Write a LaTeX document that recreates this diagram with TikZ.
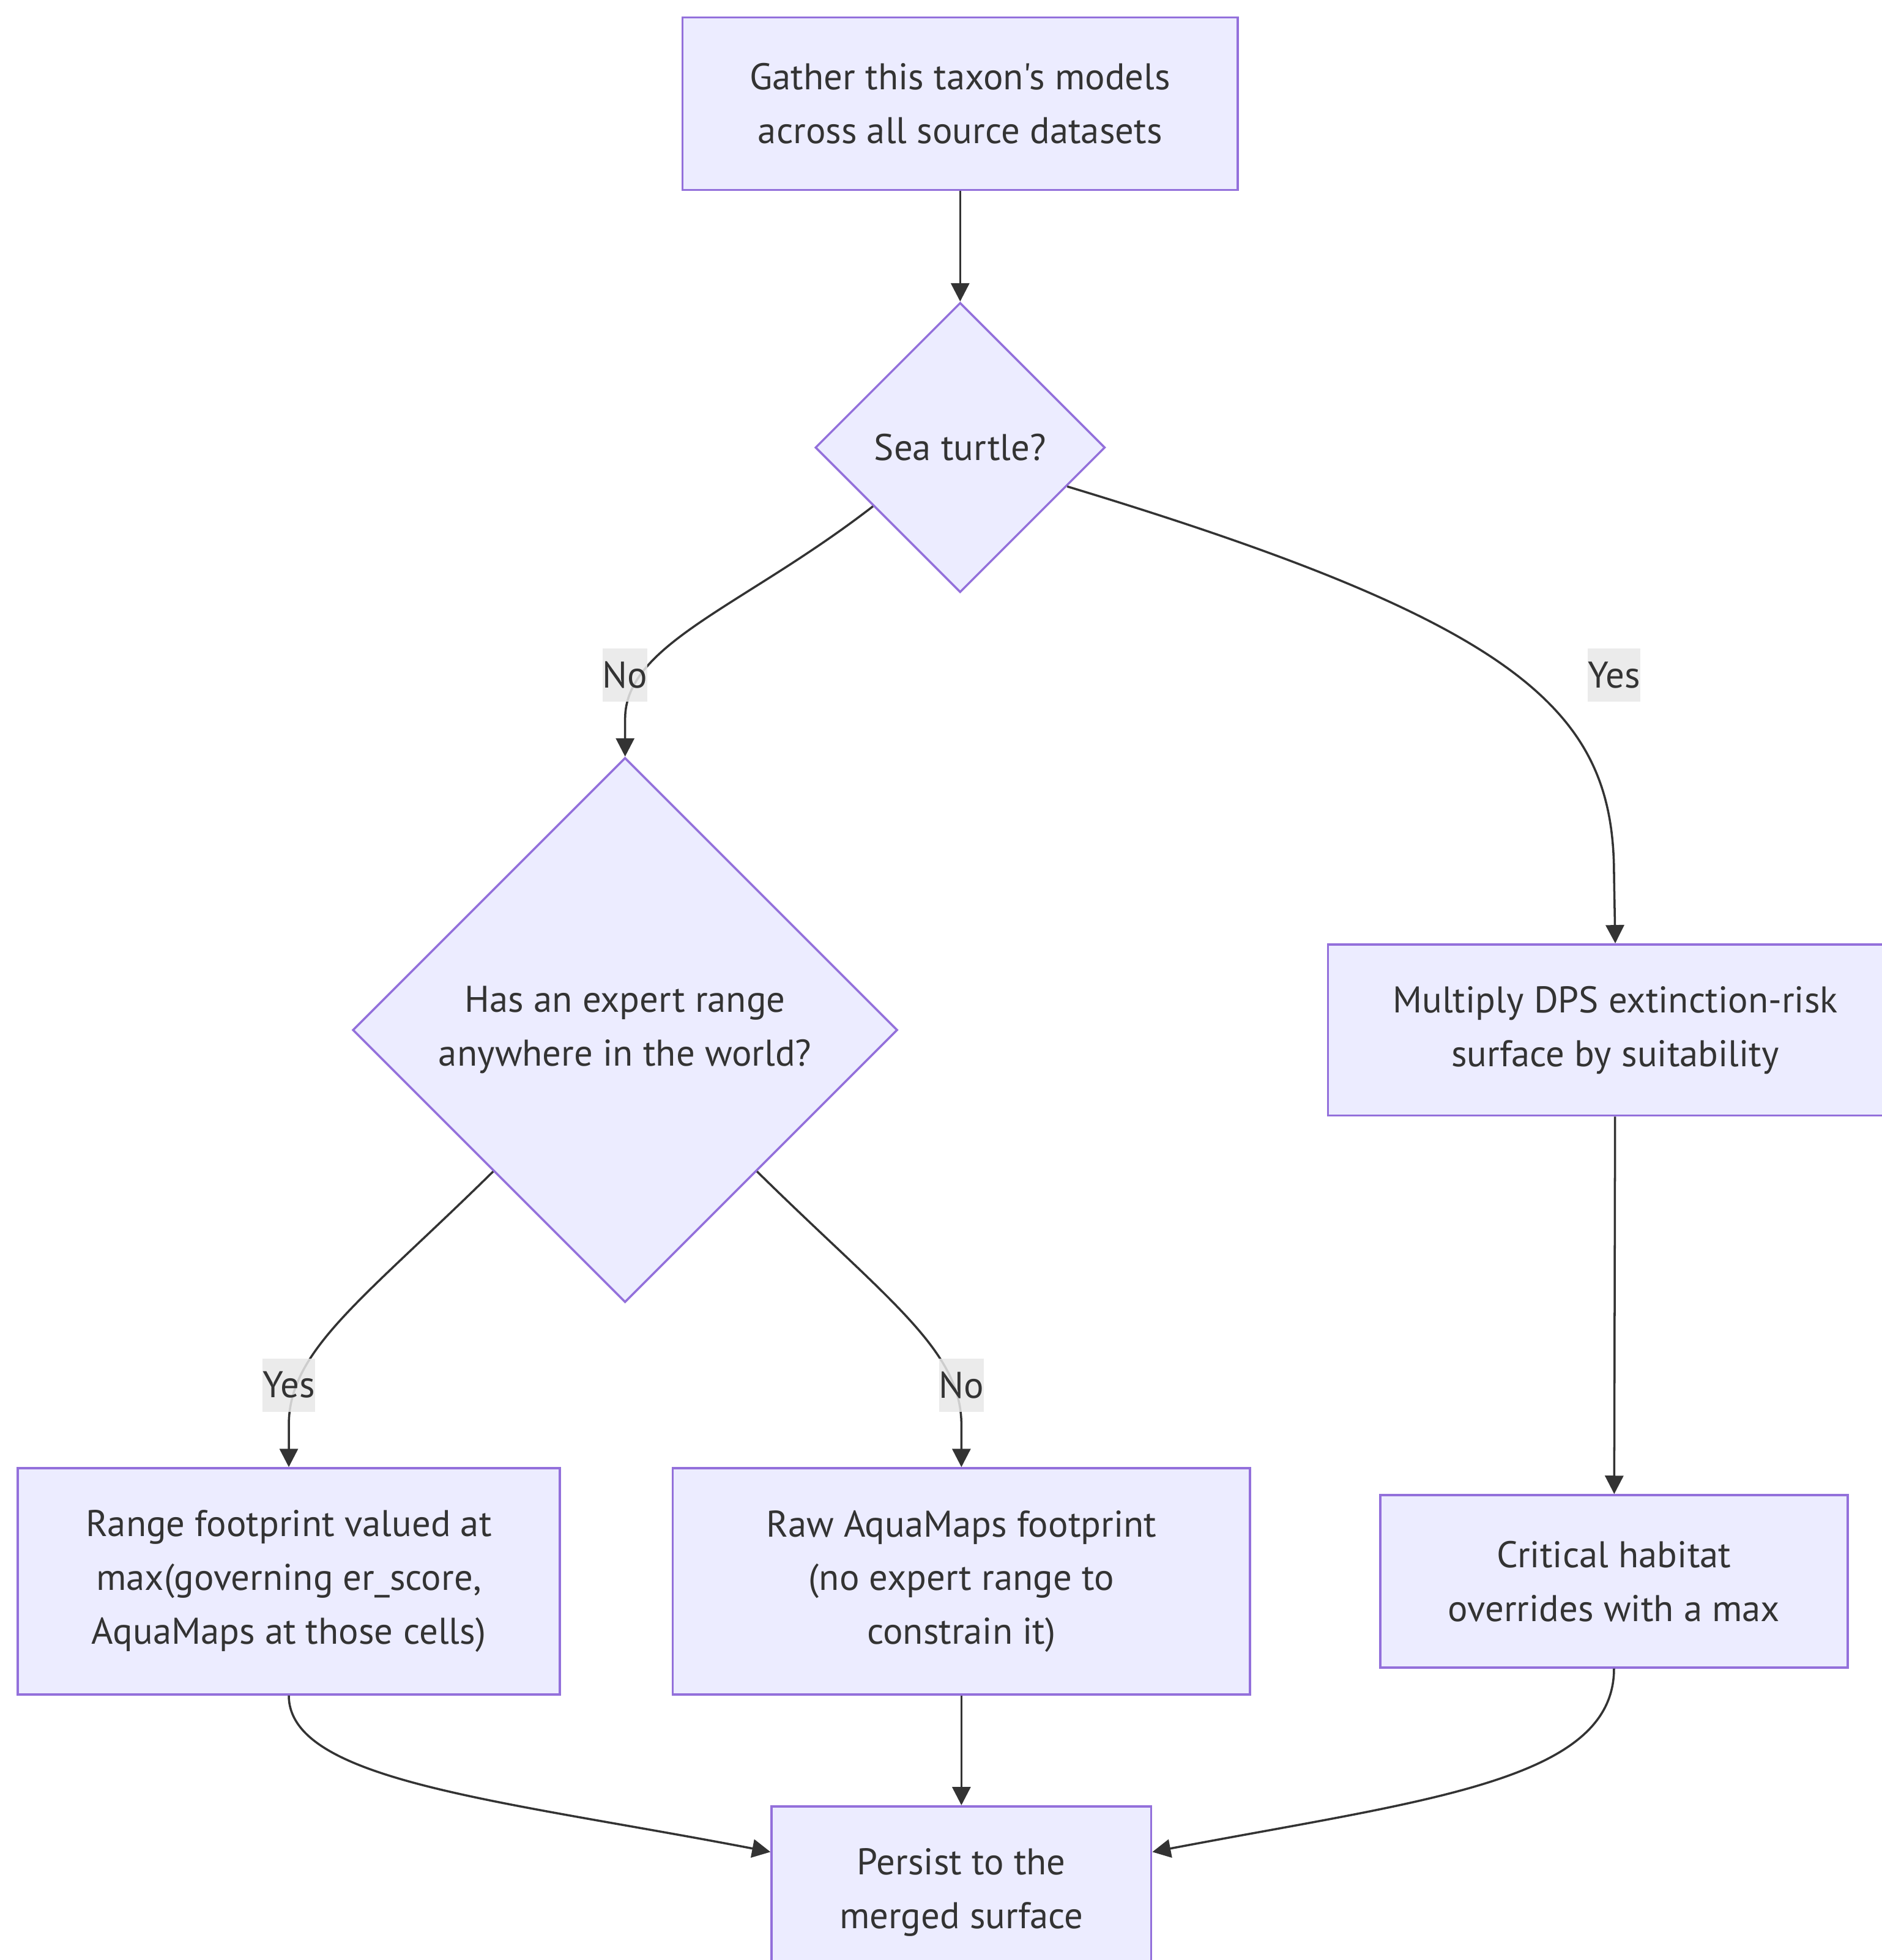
\documentclass[tikz,border=0pt]{standalone}
\usepackage{fontspec}
\setmainfont{PT Sans}[Ligatures=TeXOff]
\usetikzlibrary{arrows.meta,shapes.geometric}
\usepackage{xcolor}
\definecolor{Lavender}{HTML}{ECECFF}
\definecolor{Purple}{HTML}{9370DB}
\definecolor{Ink}{HTML}{333333}
\definecolor{TagGray}{HTML}{E8E8E8}

\begin{document}
\begin{tikzpicture}[x=0.02044cm,y=-0.02044cm,font=\fontsize{17.3}{25}\selectfont,text=Ink,
    stepbox/.style={draw=Purple,fill=Lavender,line width=1pt,align=center,inner sep=0pt},
    choice/.style={diamond,aspect=1,draw=Purple,fill=Lavender,line width=1pt,align=center,inner sep=0pt},
    tag/.style={fill=TagGray,fill opacity=0.85,text opacity=1,inner sep=0pt,minimum height=0.87cm},
    flow/.style={draw=Ink,line width=1pt,-{Triangle[length=3mm,width=3mm]}}]
    \useasboundingbox (0,0) rectangle (1505,1568);

    % steps and decisions
    \node[stepbox,minimum width=9.08cm,minimum height=2.82cm] (gather) at (768,83)
      {Gather this taxon's models\\across all source datasets};
    \node[choice,minimum size=4.74cm] (turtle) at (768,358) {Sea turtle?};
    \node[choice,minimum size=8.91cm] (expert) at (500,824)
      {Has an expert range\\anywhere in the world?};
    \node[stepbox,minimum width=9.40cm,minimum height=2.80cm] (dps) at (1292,824)
      {Multiply DPS extinction-risk\\surface by suitability};
    \node[stepbox,minimum width=8.87cm,minimum height=3.70cm] (footprint) at (231,1265)
      {Range footprint valued at\\max(governing er\_score,\\AquaMaps at those cells)};
    \node[stepbox,minimum width=9.44cm,minimum height=3.70cm] (aquamaps) at (769,1265)
      {Raw AquaMaps footprint\\(no expert range to\\constrain it)};
    \node[stepbox,minimum width=7.64cm,minimum height=2.82cm] (critical) at (1291,1265)
      {Critical habitat\\overrides with a max};
    \node[stepbox,minimum width=6.21cm,minimum height=2.82cm] (persist) at (769,1514)
      {Persist to the\\merged surface};

    % connectors
    \draw[flow] (gather) -- (turtle);
    \draw[flow] (turtle.214) .. controls (595,485) and (500,515) .. (500,575) -- (expert.north);
    \draw[flow] (turtle.340) .. controls (1220,500) and (1291,570) .. (1291,700) -- (dps.north);
    \draw[flow] (expert.227) .. controls (290,1040) and (231,1080) .. (231,1140) -- (footprint.north);
    \draw[flow] (expert.313) .. controls (710,1040) and (769,1080) .. (769,1140) -- (aquamaps.north);
    \draw[flow] (dps) -- (critical);
    \draw[flow] (aquamaps) -- (persist);
    \draw[flow] (footprint.south) .. controls (231,1425) and (400,1440) .. (persist.168);
    \draw[flow] (critical.south) .. controls (1291,1425) and (1140,1440) .. (persist.12);

    % edge labels
    \node[tag] (tagno) at (500,540) {No};
    \node[tag] (tagyes) at (1291,540) {Yes};
    \node[tag] (tagrangeyes) at (231,1108) {Yes};
    \node[tag] (tagrangeno) at (769,1108) {No};
\end{tikzpicture}
\end{document}
